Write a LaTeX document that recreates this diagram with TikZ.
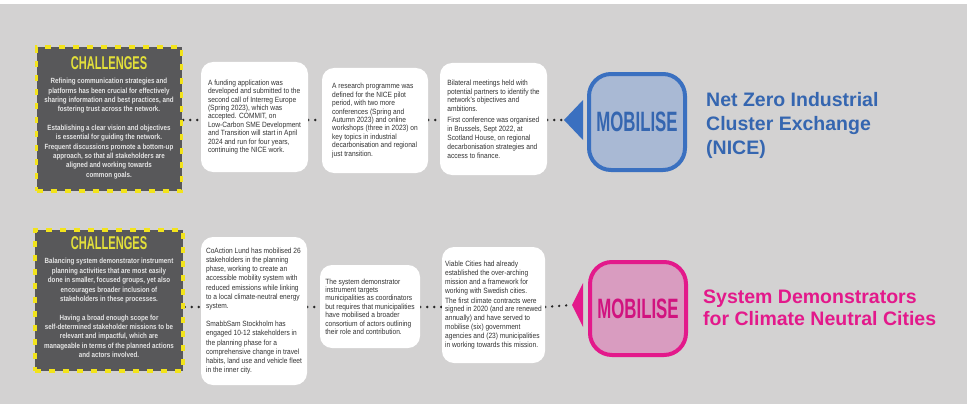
\documentclass[tikz,border=0pt]{standalone}
\usepackage{fontspec}
\setmainfont{Liberation Sans}
\newfontfamily\condfont{Liberation Sans}[FakeStretch=0.6]
\newfontfamily\narrowfont{Liberation Sans}[FakeStretch=0.87]
\newfontfamily\chalfont{Liberation Sans}[FakeStretch=0.83]
\usetikzlibrary{positioning}
\usetikzlibrary{backgrounds}

\definecolor{bggray}{HTML}{D3D2D2}
\definecolor{chalgray}{HTML}{58585A}
\definecolor{chalyellow}{HTML}{F2E31B}
\definecolor{titleyellow}{HTML}{E2DF3A}
\definecolor{nzblue}{HTML}{3A70C0}
\definecolor{nztext}{HTML}{3566B0}
\definecolor{nzfill}{HTML}{A9B9D4}
\definecolor{sdpink}{HTML}{E3198B}
\definecolor{sdtext}{HTML}{D1137F}
\definecolor{sdfill}{HTML}{D99CC0}
\definecolor{boxtext}{HTML}{333333}

\begin{document}
\begin{tikzpicture}[x=1pt, y=-1pt,
  chalbox/.style={fill=chalgray, draw=chalyellow, line width=3.5pt, dash pattern=on 6pt off 8pt, minimum width=145pt, minimum height=144pt, inner sep=0pt},
  chaltitle/.style={text=titleyellow, inner sep=0pt, font=\condfont\bfseries\fontsize{18.5}{18.5}\selectfont},
  chaltext/.style={text=white!90!black, align=center, inner sep=0pt, font=\chalfont\bfseries\fontsize{7.5}{9.3}\selectfont},
  stepbox/.style={fill=white, rounded corners=12pt, align=left, text=boxtext, inner sep=0pt, font=\narrowfont\fontsize{7.6}{8.4}\selectfont},
  mobbox/.style={line width=4pt, rounded corners=22pt, minimum width=96pt, minimum height=96pt, inner sep=0pt, font=\condfont\bfseries\fontsize{28}{28}\selectfont},
  conn/.style={line width=2.6pt, line cap=round, dash pattern=on 0pt off 7pt, black!85},
  goal/.style={anchor=north west, align=left, inner sep=0pt, font=\bfseries\fontsize{19.5}{24}\selectfont}
]
\useasboundingbox (0,0) rectangle (974,404);

\def \rowa{120}
\def \rowb{307}

% top row: NICE
\node[chalbox] (chal1) at (109,119) {};
\node[chaltitle, below=11.5pt of chal1.north] (chal1title) {CHALLENGES};
\node[chaltext, below=8pt of chal1title] (chal1text) {Refining communication strategies and\\
  platforms has been crucial for effectively\\
  sharing information and best practices, and\\
  fostering trust  across the network.\\[9.5pt]
  Establishing a clear vision and objectives\\
  is essential for guiding the network.\\
  Frequent discussions promote a bottom-up\\
  approach, so that all stakeholders are\\
  aligned and working towards\\
  common goals.};

\node[stepbox, minimum width=107pt, minimum height=110pt] (step1) at (254.5,117) {A funding application was\\
  developed and submitted to the\\
  second call of Interreg Europe\\
  (Spring 2023), which was\\
  accepted. COMMIT, on\\
  Low-Carbon SME Development\\
  and Transition will start in April\\
  2024 and run for four years,\\
  continuing the NICE work.};
\node[stepbox, minimum width=106pt, minimum height=105pt] (step2) at (375,120.5) {A research programme was\\
  defined for the NICE pilot\\
  period, with two more\\
  conferences (Spring and\\
  Autumn 2023) and online\\
  workshops (three in 2023) on\\
  key topics in industrial\\
  decarbonisation and regional\\
  just transition.};
\node[stepbox, minimum width=107pt, minimum height=112pt, font=\narrowfont\fontsize{7.6}{8.9}\selectfont] (step3) at (493.5,119) {Bilateral meetings held with\\
  potential partners to identify the\\
  network's objectives and\\
  ambitions.\\[2pt]
  First conference was organised\\
  in Brussels, Sept 2022, at\\
  Scotland House, on regional\\
  decarbonisation strategies and\\
  access to finance.};

\coordinate (tip1) at (564,\rowa);
\fill[nzblue] (tip1) -- ++(19,-20) -- ++(0,40) -- cycle;
\node[mobbox, draw=nzblue, fill=nzfill, text=nztext] (mob1) at (637,122) {MOBILISE};
\node[goal, text=nztext] (goal1) at (706,92.5) {Net Zero Industrial\\Cluster Exchange\\(NICE)};

% bottom row: climate neutral cities
\node[chalbox, minimum width=148pt, minimum height=141pt] (chal2) at (109,300.5) {};
\node[chaltitle, below=8.5pt of chal2.north] (chal2title) {CHALLENGES};
\node[chaltext, below=8pt of chal2title, font=\chalfont\bfseries\fontsize{7.5}{9.4}\selectfont] (chal2text) {Balancing system demonstrator instrument\\
  planning activities that are most easily\\
  done in smaller, focused groups, yet also\\
  encourages broader inclusion of\\
  stakeholders in these processes.\\[9.3pt]
  Having a broad enough scope for\\
  self-determined stakeholder missions to be\\
  relevant and impactful, which are\\
  manageable in terms of the planned actions\\
  and actors involved.};

\node[stepbox, minimum width=106pt, minimum height=148pt, font=\narrowfont\fontsize{7.6}{9.2}\selectfont] (step4) at (254,311) {CoAction Lund has mobilised 26\\
  stakeholders in the planning\\
  phase, working to create an\\
  accessible mobility system with\\
  reduced emissions while linking\\
  to a local climate-neutral energy\\
  system.\\[9pt]
  SmabbSam Stockholm has\\
  engaged 10-12 stakeholders in\\
  the planning phase for a\\
  comprehensive change in travel\\
  habits, land use and vehicle fleet\\
  in the inner city.};
\node[stepbox, minimum width=100pt, minimum height=83pt] (step5) at (370,306.5) {The system demonstrator\\
  instrument targets\\
  municipalities as coordinators\\
  but requires that municipalities\\
  have mobilised a broader\\
  consortium of actors outlining\\
  their role and contribution.};
\node[stepbox, minimum width=103pt, minimum height=116pt, font=\narrowfont\fontsize{7.6}{8.9}\selectfont] (step6) at (493.5,305) {Viable Cities had already\\
  established the over-arching\\
  mission and a framework for\\
  working with Swedish cities.\\[1pt]
  The first climate contracts were\\
  signed in 2020 (and are renewed\\
  annually) and have served to\\
  mobilise (six) government\\
  agencies and (23) municipalities\\
  in working towards this mission.};

\coordinate (tip2) at (572,305);
\fill[sdpink] (tip2) -- ++(11,-22) -- ++(0,44) -- cycle;
\node[mobbox, minimum height=93pt, draw=sdpink, fill=sdfill, text=sdtext] (mob2) at (638,308.5) {MOBILISE};
\node[goal, text=sdpink, font=\bfseries\fontsize{19.5}{21.7}\selectfont] (goal2) at (703,289.5) {System Demonstrators\\for Climate Neutral Cities};

\begin{scope}[on background layer]
\fill[white] (0,0) rectangle (974,404);
\fill[bggray] (0,4) rectangle (967,404);
\draw[conn] (chal1.east |- 0,\rowa) -- (step1.west |- 0,\rowa);
\draw[conn] (step1.east |- 0,\rowa) -- (step2.west |- 0,\rowa);
\draw[conn] (step2.east |- 0,\rowa) -- (step3.west |- 0,\rowa);
\draw[conn] (step3.east |- 0,\rowa) -- (tip1);
\draw[conn] (chal2.east |- 0,\rowb) -- (step4.west |- 0,\rowb);
\draw[conn] (step4.east |- 0,\rowb) -- (step5.west |- 0,\rowb);
\draw[conn] (step5.east |- 0,\rowb) -- (step6.west |- 0,\rowb);
\draw[conn] (step6.east |- 0,\rowb) -- (tip2);
\end{scope}

\end{tikzpicture}
\end{document}
